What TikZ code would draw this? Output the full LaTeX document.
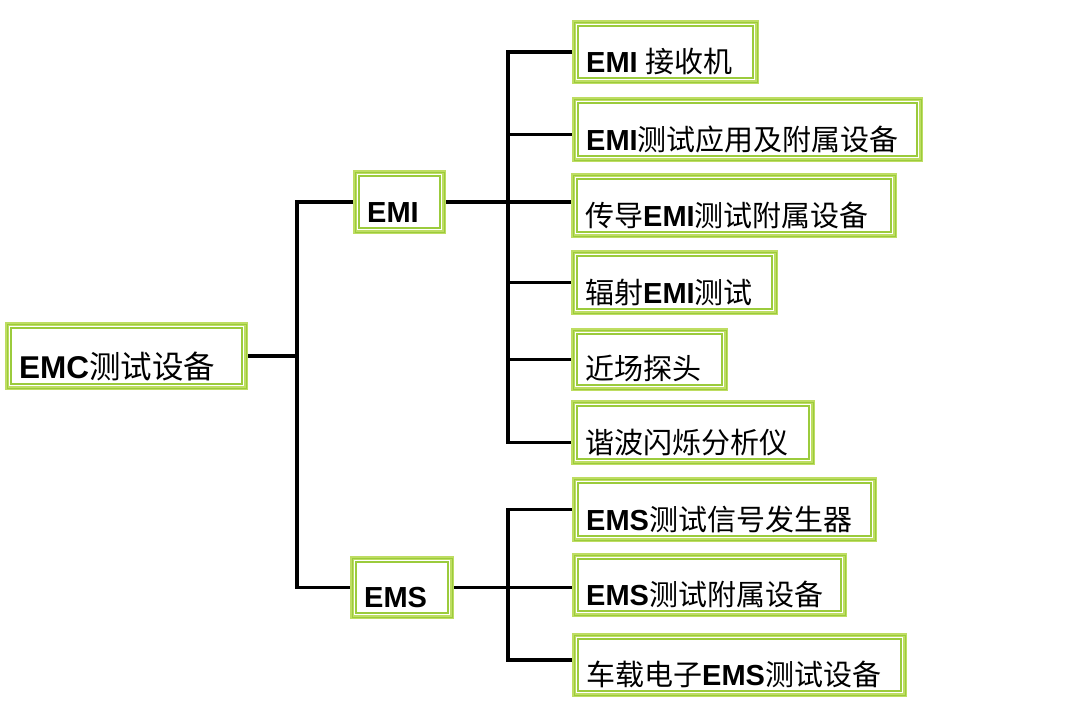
\documentclass[tikz,border=0pt]{standalone}
\usepackage{fontspec}
\setmainfont{Liberation Sans}
\newfontfamily\zhfont{Noto Sans CJK SC}
\newcommand\zh[1]{{\zhfont #1}}
\newcommand\en[1]{{\bfseries #1}}
\definecolor{gLight}{HTML}{BEDD62}
\definecolor{gDark}{HTML}{9BCB3C}
\tikzset{
  gbox/.style={draw=gLight, line width=7pt, fill=white, inner sep=0pt, line join=miter},
  lbl/.style={anchor=base west, inner sep=0pt, font=\fontsize{29}{31}\selectfont, text=black},
  biglbl/.style={font=\fontsize{31.5}{33}\selectfont},
  conn/.style={draw=black, line width=3.8pt, line join=miter}
}
% name, x1, y1, x2, y2, text
\newcommand\gbox[7][]{%
  \node[gbox, minimum width={(#5-#3-7)*1pt}, minimum height={(#6-#4-7)*1pt}]
     (#2) at ({(#3+#5)/2},{(#4+#6)/2}) {};
  \draw[gDark, line width=1pt] ([shift={(2,2)}]#2.north west) rectangle ([shift={(-2,-2)}]#2.south east);
  \draw[white, line width=1.2pt] ([shift={(4.3,4.3)}]#2.north west) rectangle ([shift={(-4.3,-4.3)}]#2.south east);
  \draw[gDark, line width=1.3pt] ([shift={(6,6)}]#2.north west) rectangle ([shift={(-6,-6)}]#2.south east);
  \node[lbl,#1] (#2-t) at ([shift={(14,-12)}]#2.south west) {#7};
}
\begin{document}
\begin{tikzpicture}[x=1pt,y=-1pt]
\useasboundingbox[fill=white] (0,0) rectangle (1080,721);

\gbox[biglbl]{emc}{5}{322}{248}{390}{\en{EMC}\zh{测试设备}}
\gbox{emi}{353}{170}{446}{234}{\en{EMI}}
\gbox{ems}{350}{556}{454}{619}{\en{EMS}}

\gbox{a1}{572}{20}{759}{84}{\en{EMI} \zh{接收机}}
\gbox{a2}{572}{97}{923}{162}{\en{EMI}\zh{测试应用及附属设备}}
\gbox{a3}{571}{173}{897}{238}{\zh{传导}\en{EMI}\zh{测试附属设备}}
\gbox{a4}{571}{250}{778}{315}{\zh{辐射}\en{EMI}\zh{测试}}
\gbox{a5}{571}{328}{728}{391}{\zh{近场探头}}
\gbox{a6}{571}{400}{815}{465}{\zh{谐波闪烁分析仪}}

\gbox{b1}{572}{477}{877}{542}{\en{EMS}\zh{测试信号发生器}}
\gbox{b2}{572}{553}{847}{617}{\en{EMS}\zh{测试附属设备}}
\gbox{b3}{572}{633}{907}{697}{\zh{车载电子}\en{EMS}\zh{测试设备}}

\coordinate (trunk) at (297,0);
\coordinate (bus) at (508,0);
\coordinate (a2in) at ([yshift=-5pt]a2.west);
\coordinate (a6in) at ([yshift=-10pt]a6.west);
\coordinate (b3in) at ([yshift=5pt]b3.west);

% level 1
\draw[conn] (emc.east) -- (trunk |- emc.east);
\draw[conn] (emi.west) -- (trunk |- emi.west) -- (trunk |- ems.west) -- (ems.west);

% EMI branch
\draw[conn] (emi.east) -- (a3.west |- emi.east);
\draw[conn] (a1.west) -- (bus |- a1.west) -- (bus |- a6in) -- (a6in);
\draw[conn] (bus |- a2in) -- (a2in);
\draw[conn] (bus |- a4.west) -- (a4.west);
\draw[conn] (bus |- a5.west) -- (a5.west);

% EMS branch
\draw[conn] (ems.east) -- (b2.west |- ems.east);
\draw[conn] (b1.west) -- (bus |- b1.west) -- (bus |- b3in) -- (b3in);
\end{tikzpicture}
\end{document}
